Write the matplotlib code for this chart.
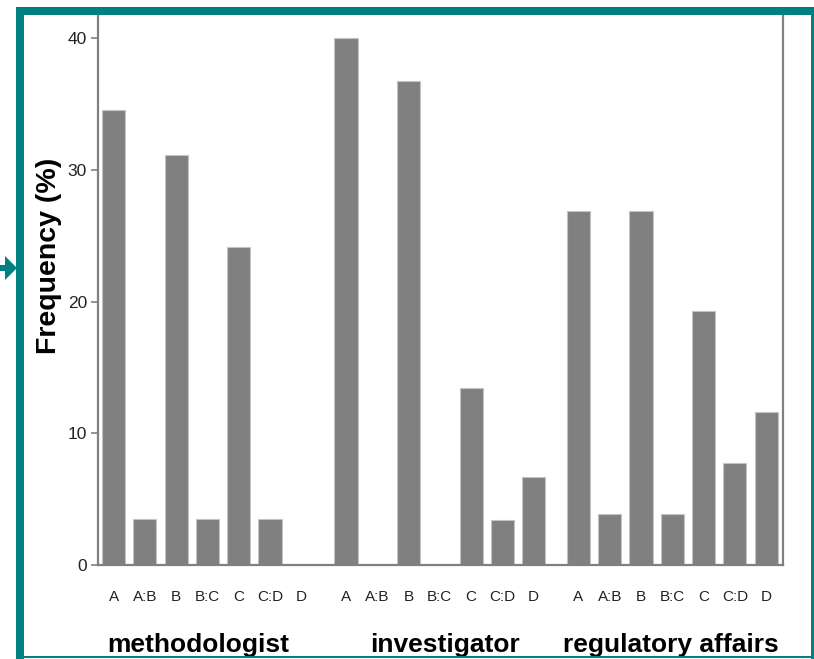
import matplotlib
matplotlib.use("Agg")
import matplotlib.pyplot as plt
from matplotlib.patches import Rectangle, FancyArrow
import numpy as np

plt.rcParams['font.family'] = ['Liberation Sans', 'DejaVu Sans']

groups = ["methodologist", "investigator", "regulatory affairs"]
categories = ["A", "A:B", "B", "B:C", "C", "C:D", "D"]
methodologist = [34.5, 3.5, 31.1, 3.5, 24.1, 3.5, 0.0]
investigator = [40.0, 0.0, 36.7, 0.0, 13.4, 3.4, 6.7]
regulatory = [26.9, 3.85, 26.9, 3.85, 19.3, 7.75, 11.6]
yticks = [0, 10, 20, 30, 40]

series = [methodologist, investigator, regulatory]
group_step = 7.43
label_shift = [-0.3, 0.15, -0.05]

fig = plt.figure(figsize=(8.14, 6.59), dpi=100)
ax = fig.add_axes([98/814, 1-565/659, (783-98)/814, (565-12)/659])

gray = "#808080"
xs_all, labels_all = [], []
for gi, vals in enumerate(series):
    x = np.arange(len(categories)) + gi*group_step
    ax.bar(x, vals, width=0.74, color=gray, edgecolor="#c4c4c4", linewidth=0.8, zorder=2)
    xs_all.extend(x)
    labels_all.extend(categories)
    ax.text(x.mean() + label_shift[gi], -0.144, groups[gi], transform=ax.get_xaxis_transform(),
            ha="center", va="center", fontsize=19, fontweight="bold")

ax.set_xlim(-0.5, 2*group_step + 6 + 0.54)
ax.set_ylim(0, 553/13.175)
ax.set_xticks(xs_all)
ax.set_xticklabels(labels_all, fontsize=11, color="#222222")
ax.tick_params(axis="x", length=0, pad=18)
ax.set_yticks(yticks)
ax.set_yticklabels([str(v) for v in yticks], fontsize=12.5, color="#222222")
ax.tick_params(axis="y", length=5, width=1.2, color=gray, pad=3)
for s in ["left", "right", "bottom"]:
    ax.spines[s].set_color(gray)
    ax.spines[s].set_linewidth(1.6)
ax.spines["top"].set_visible(False)
ax.set_ylabel("Frequency (%)", fontsize=20.5, fontweight="bold")
ax.yaxis.set_label_coords(-0.052, 0.559)

teal = "#008080"
W, H = 814, 659
def px_rect(x0, y0, x1, y1):
    fig.add_artist(Rectangle((x0/W, 1-y1/H), (x1-x0)/W, (y1-y0)/H,
                             transform=fig.transFigure, color=teal, zorder=10, lw=0))
px_rect(16, 7, 24, 659)
px_rect(16, 7, 814, 15)
px_rect(811, 7, 813.5, 659)
px_rect(16, 655.5, 813.5, 658)
fig.add_artist(FancyArrow(0/W, 1-268/H, 17/W, 0, width=6/H, head_width=24/H,
                          head_length=12/W, length_includes_head=True,
                          transform=fig.transFigure, color=teal, lw=0, zorder=10))

fig.savefig("out.png", dpi=100)
